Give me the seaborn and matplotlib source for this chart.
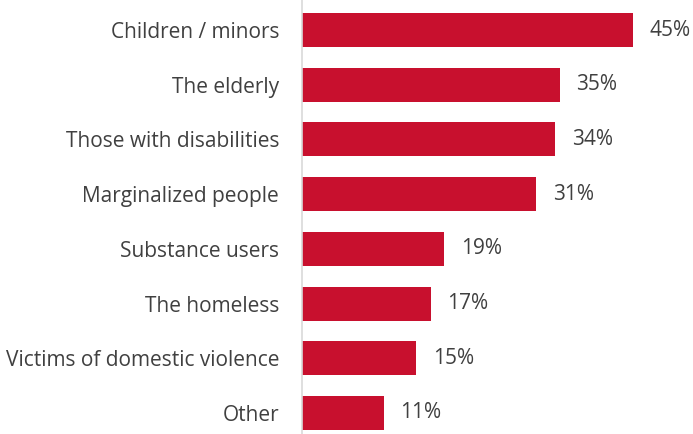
import matplotlib
matplotlib.use("Agg")
import matplotlib.pyplot as plt
import seaborn as sns
import pandas as pd

categories = ["Children / minors", "The elderly", "Those with disabilities",
              "Marginalized people", "Substance users", "The homeless",
              "Victims of domestic violence", "Other"]
values = [45.0, 35.0, 34.4, 31.8, 19.3, 17.5, 15.5, 11.1]
value_labels = ["45%", "35%", "34%", "31%", "19%", "17%", "15%", "11%"]

sns.set_theme(style="white")
plt.rcParams["font.family"] = ["Open Sans", "DejaVu Sans"]

df = pd.DataFrame({"category": categories, "value": values})

fig = plt.figure(figsize=(6.93, 4.34), dpi=100)
ax = fig.add_axes([302 / 693, 0, 391 / 693, 1])
sns.barplot(data=df, x="value", y="category", orient="h", color="#C8102E",
            saturation=1, width=0.62, ax=ax, edgecolor="none")

ax.set_xlim(0, 391 / 7.36)
ax.set_ylim(7 + 21 / 54.71, -30 / 54.71)
ax.set_xlabel("")
ax.set_ylabel("")
ax.set_xticks([])
ax.tick_params(axis="y", length=0, pad=16.5, labelsize=15, labelcolor="#404040")
for s in ["top", "right", "bottom"]:
    ax.spines[s].set_visible(False)
ax.spines["left"].set_color("#D9D9D9")
ax.spines["left"].set_linewidth(1.2)

for i, (v, lab) in enumerate(zip(values, value_labels)):
    ax.annotate(lab, xy=(v, i), xytext=(12, 0), textcoords="offset points",
                va="center", ha="left", fontsize=15, color="#404040")

fig.savefig("out.png", dpi=100)
